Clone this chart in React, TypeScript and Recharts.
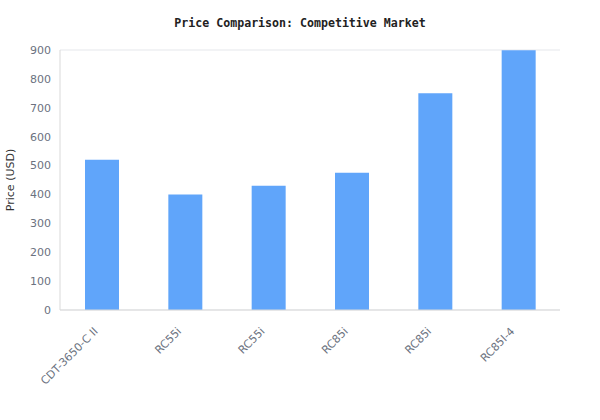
import React from "react";
import { BarChart, Bar, XAxis, YAxis, CartesianGrid } from "recharts";

const products = ["CDT-3650-C II", "RC55i", "RC55i", "RC85i", "RC85i", "RC85I-4"];
const prices = [520, 400, 430, 475, 750, 899];
const yTicks = [0, 100, 200, 300, 400, 500, 600, 700, 800, 900];

const data = products.map((name, i) => ({ key: `${name}-${i}`, name, price: prices[i] }));

const FONT = "'DejaVu Sans', Verdana, sans-serif";
const TICK_COLOR = "#6b7280";

const XTick = (props: any) => {
  const { x, y, payload } = props;
  const label = data[payload.index]?.name ?? payload.value;
  return (
    <g transform={`translate(${x - 3},${y + 14})`}>
      <text
        transform="rotate(-45)"
        textAnchor="end"
        fill={TICK_COLOR}
        fontSize={11}
        fontFamily={FONT}
      >
        {label}
      </text>
    </g>
  );
};

const YLabel = (props: any) => {
  const vb = props.viewBox || { x: 0, y: 50, width: 60, height: 260 };
  const cx = vb.x + 14;
  const cy = vb.y + vb.height / 2;
  return (
    <text
      x={cx}
      y={cy}
      transform={`rotate(-90, ${cx}, ${cy})`}
      textAnchor="middle"
      fill="#333"
      fontSize={11}
      fontFamily={FONT}
    >
      Price (USD)
    </text>
  );
};

export default function App() {
  return (
    <div style={{ position: "absolute", left: 0, top: 0, width: 600, height: 420, background: "#fff" }}>
      <div
        style={{
          position: "absolute",
          left: 0,
          top: 16,
          width: 600,
          textAlign: "center",
          fontFamily: "'DejaVu Sans Mono', monospace",
          fontWeight: "bold",
          fontSize: 11.6,
          color: "#222",
          lineHeight: "14px",
        }}
      >
        Price Comparison: Competitive Market
      </div>
      <BarChart
        width={600}
        height={420}
        data={data}
        margin={{ top: 50, right: 40, bottom: 0, left: 0 }}
      >
        <CartesianGrid vertical={false} stroke="#e5e7eb" strokeDasharray="" />
        <XAxis
          dataKey="key"
          xAxisId="main"
          tick={<XTick />}
          tickLine={false}
          axisLine={{ stroke: "#d9d9d9" }}
          interval={0}
          height={110}
        />
        <XAxis
          xAxisId="top"
          dataKey="key"
          orientation="top"
          tick={false}
          tickLine={false}
          axisLine={{ stroke: "#d9d9d9" }}
          height={0}
        />
        <YAxis
          yAxisId="main"
          domain={[0, 900]}
          ticks={yTicks}
          interval={0}
          tickLine={false}
          axisLine={{ stroke: "#d9d9d9" }}
          width={60}
          tick={{ fill: TICK_COLOR, fontSize: 11, fontFamily: FONT }}
          tickMargin={3}
          label={<YLabel />}
        />
        <YAxis
          yAxisId="right"
          orientation="right"
          domain={[0, 900]}
          tick={false}
          tickLine={false}
          axisLine={{ stroke: "#d9d9d9" }}
          width={0}
        />
        <Bar
          dataKey="price"
          xAxisId="main"
          yAxisId="main"
          fill="#60a5fa"
          barSize={34}
          isAnimationActive={false}
        />
      </BarChart>
    </div>
  );
}
